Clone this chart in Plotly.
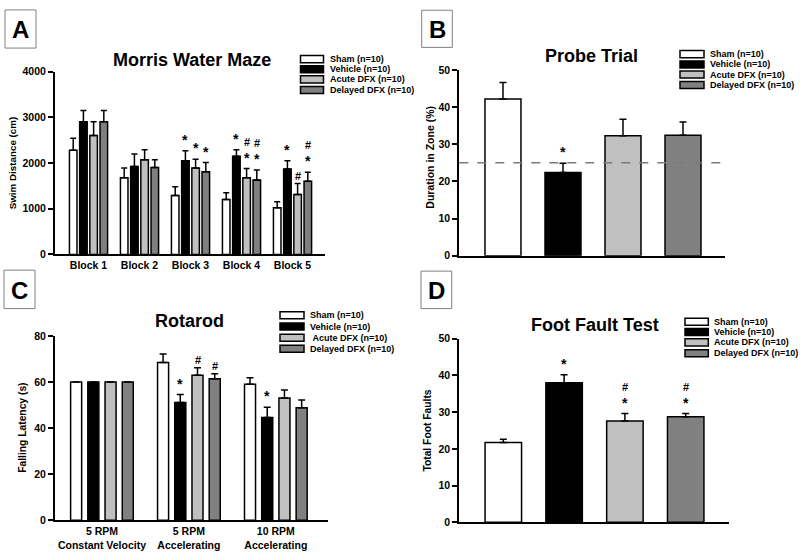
import plotly.graph_objects as go

W, H = 800, 554
FONT = "Arial, Liberation Sans, sans-serif"

# ---------------- data ----------------
series_names = ["Sham (n=10)", "Vehicle (n=10)", "Acute DFX (n=10)", "Delayed DFX (n=10)"]
series_names_c = ["Sham (n=10)", "Vehicle (n=10)", "\u00a0Acute DFX (n=10)", "Delayed DFX (n=10)"]
series_colors = ["#ffffff", "#000000", "#c0c0c0", "#808080"]

# Panel A - Morris Water Maze
blocks = ["Block 1", "Block 2", "Block 3", "Block 4", "Block 5"]
mwm_sham = [2280, 1680, 1290, 1200, 1020]
mwm_vehicle = [2900, 1925, 2050, 2150, 1870]
mwm_acute = [2600, 2070, 1890, 1680, 1310]
mwm_delayed = [2900, 1900, 1810, 1630, 1600]
mwm_sham_err = [260, 210, 190, 150, 135]
mwm_vehicle_err = [250, 275, 220, 140, 180]
mwm_acute_err = [300, 220, 190, 200, 240]
mwm_delayed_err = [250, 170, 200, 220, 200]
mwm_stars = [[0, 0, 0, 0, 0], [0, 0, 1, 1, 1], [0, 0, 1, 1, 0], [0, 0, 1, 1, 1]]
mwm_hashes = [[0, 0, 0, 0, 0], [0, 0, 0, 0, 0], [0, 0, 0, 1, 1], [0, 0, 0, 1, 1]]

# Panel B - Probe Trial
probe_groups = ["Sham", "Vehicle", "Acute DFX", "Delayed DFX"]
probe_vals = [42.2, 22.4, 32.3, 32.4]
probe_err = [4.4, 2.5, 4.4, 3.6]
probe_stars = [0, 1, 0, 0]
probe_chance = 25

# Panel C - Rotarod
rot_conditions = ["5 RPM<br>Constant Velocity", "5 RPM<br>Accelerating", "10 RPM<br>Accelerating"]
rot_sham = [60, 68.5, 59.0]
rot_vehicle = [60, 51.1, 44.6]
rot_acute = [60, 63.0, 53.1]
rot_delayed = [60, 61.4, 48.8]
rot_sham_err = [0, 3.7, 2.9]
rot_vehicle_err = [0, 3.5, 4.5]
rot_acute_err = [0, 3.2, 3.5]
rot_delayed_err = [0, 2.2, 3.4]
rot_stars = [[0, 0, 0], [0, 1, 1], [0, 0, 0], [0, 0, 0]]
rot_hashes = [[0, 0, 0], [0, 0, 0], [0, 1, 0], [0, 1, 0]]

# Panel D - Foot Fault Test
ff_vals = [21.7, 38.0, 27.6, 28.7]
ff_err = [0.9, 2.2, 2.0, 0.9]
ff_stars = [0, 1, 1, 1]
ff_hashes = [0, 0, 1, 1]


def px(x):
    return x / W


def py(y):
    return 1 - y / H


fig = go.Figure()
annotations = []
shapes = []


def sig_marks(xref, yref, x, top, star, hsh):
    if star:
        annotations.append(dict(x=x, y=top, xref=xref, yref=yref, text="*", showarrow=False,
                                yanchor="middle", yshift=11,
                                font=dict(family=FONT, size=14, color="black", weight="bold")))
    if hsh:
        annotations.append(dict(x=x, y=top, xref=xref, yref=yref, text="#", showarrow=False,
                                yanchor="middle", yshift=27 if star else 8,
                                font=dict(family=FONT, size=11, color="black", weight="bold")))


def err_style(arr, cap):
    return dict(type="data", array=arr, arrayminus=[0] * len(arr), symmetric=False,
                color="black", thickness=1.5, width=cap, visible=True)


def grouped(xa, ya, vals_list, errs_list, stars, hashes, slot, width, cap):
    for k in range(4):
        off = (k - 1.5) * slot
        xs = list(range(len(vals_list[k])))
        fig.add_trace(go.Bar(
            x=xs, y=vals_list[k], width=width, offset=off - width / 2,
            marker=dict(color=series_colors[k], line=dict(color="black", width=1.5)),
            error_y=err_style(errs_list[k], cap), name=series_names[k],
            xaxis=xa, yaxis=ya, showlegend=False))
        for i, v in enumerate(vals_list[k]):
            sig_marks(xa, ya, i + off, v + errs_list[k][i], stars[k][i], hashes[k][i])


def single(xa, ya, vals, errs, stars, hashes, width, cap):
    for k in range(4):
        fig.add_trace(go.Bar(
            x=[k], y=[vals[k]], width=width, offset=-width / 2,
            marker=dict(color=series_colors[k], line=dict(color="black", width=1.5)),
            error_y=err_style([errs[k]], cap), name=series_names[k],
            xaxis=xa, yaxis=ya, showlegend=False))
        sig_marks(xa, ya, k, vals[k] + errs[k], stars[k], hashes[k] if hashes else 0)


# Panel A
grouped("x", "y", [mwm_sham, mwm_vehicle, mwm_acute, mwm_delayed],
        [mwm_sham_err, mwm_vehicle_err, mwm_acute_err, mwm_delayed_err],
        mwm_stars, mwm_hashes, slot=0.2, width=0.148, cap=3)
# Panel B
single("x2", "y2", probe_vals, probe_err, probe_stars, None, width=0.6, cap=3.5)
shapes.append(dict(type="line", xref="x2 domain", yref="y2", x0=0, x1=1,
                   y0=probe_chance, y1=probe_chance, layer="above",
                   line=dict(color="#7a7a7a", width=1.5, dash="dash")))
# Panel C
grouped("x3", "y3", [rot_sham, rot_vehicle, rot_acute, rot_delayed],
        [rot_sham_err, rot_vehicle_err, rot_acute_err, rot_delayed_err],
        rot_stars, rot_hashes, slot=0.198, width=0.127, cap=3.5)
# Panel D
single("x4", "y4", ff_vals, ff_err, ff_stars, ff_hashes, width=0.6, cap=3.5)

tickfont = dict(family=FONT, size=10.5, color="black", weight="bold")
yax_common = dict(showline=True, linewidth=2, linecolor="black", ticks="outside",
                  ticklen=5, tickwidth=1.5, tickcolor="black", showgrid=False,
                  zeroline=False, tickfont=tickfont, fixedrange=True)
xax_common = dict(showline=True, linewidth=2, linecolor="black", ticks="",
                  showgrid=False, zeroline=False, tickfont=tickfont, fixedrange=True)

fig.update_layout(
    width=W, height=H, margin=dict(l=0, r=0, t=0, b=0),
    paper_bgcolor="white", plot_bgcolor="white", barmode="overlay", showlegend=False,
    xaxis=dict(domain=[px(55), px(325)], range=[-0.657, 4.637], anchor="y",
               tickvals=list(range(len(blocks))), ticktext=blocks, **xax_common),
    yaxis=dict(domain=[py(254), py(67)], range=[0, 4000], dtick=1000, anchor="x", **yax_common),
    xaxis2=dict(domain=[px(459.3), px(725)], range=[-0.728, 3.7], anchor="y2",
                showticklabels=False, **xax_common),
    yaxis2=dict(domain=[py(255.3), py(65.3)], range=[0, 50], dtick=10, anchor="x2", **yax_common),
    xaxis3=dict(domain=[px(55), px(328)], range=[-0.54, 2.6], anchor="y3",
                tickvals=list(range(len(rot_conditions))), ticktext=rot_conditions, **xax_common),
    yaxis3=dict(domain=[py(525.7), py(337.3)], range=[0, 80], dtick=20, anchor="x3", **yax_common),
    xaxis4=dict(domain=[px(459.3), px(729.3)], range=[-0.724, 3.717], anchor="y4",
                showticklabels=False, **xax_common),
    yaxis4=dict(domain=[py(527.7), py(340)], range=[0, 50], dtick=10, anchor="x4", **yax_common),
)

# titles
titles = [("Morris Water Maze", 192, 55), ("Probe Trial", 591.7, 51),
          ("Rotarod", 189.7, 322), ("Foot Fault Test", 595, 326.3)]
for t, x, y in titles:
    annotations.append(dict(text=t, x=px(x), y=py(y), xref="paper", yref="paper",
                            showarrow=False, xanchor="center", yanchor="middle",
                            font=dict(family=FONT, size=18, color="black", weight="bold")))

# y-axis titles
ytitles = [("Swim Distance (cm)", 12.3, 160.5, 9.8), ("Duration in Zone (%)", 430, 155, 10.5),
           ("Falling Latency (s)", 21.7, 431.5, 10.3), ("Total Foot Faults", 428, 434, 10.3)]
for t, x, y, s in ytitles:
    annotations.append(dict(text=t, x=px(x), y=py(y), xref="paper", yref="paper",
                            showarrow=False, textangle=-90, xanchor="center", yanchor="middle",
                            font=dict(family=FONT, size=s, color="black", weight="bold")))

# panel letters
letters = [("A", 5, 4, 36, 43), ("B", 421.7, 4.3, 452.3, 42.3),
           ("C", 4, 270, 35, 309.3), ("D", 421, 271, 451.7, 309.3)]
for L, x0, y0, x1, y1 in letters:
    shapes.append(dict(type="rect", xref="paper", yref="paper", x0=px(x0), x1=px(x1),
                       y0=py(y1), y1=py(y0), line=dict(color="#808080", width=1),
                       fillcolor="white", layer="below"))
    annotations.append(dict(text=L, x=px((x0 + x1) / 2), y=py((y0 + y1) / 2 + 1),
                            xref="paper", yref="paper", showarrow=False,
                            xanchor="center", yanchor="middle",
                            font=dict(family=FONT, size=24, color="black", weight="bold")))

# legends (drawn manually to reproduce wide swatches)
legends = [(300.5, 323.5, [54.3, 64.6, 75.0, 85.8], 328.3, series_names),
           (680, 704, [49.2, 59.7, 70.1, 80.7], 708.3, series_names),
           (280, 304, [316, 327.7, 339.1, 350.4], 308.3, series_names_c),
           (685, 708.3, [322.7, 333.2, 343.8, 355.0], 712.3, series_names)]
for bx0, bx1, rows, tx, names in legends:
    for k, yc in enumerate(rows):
        shapes.append(dict(type="rect", xref="paper", yref="paper", x0=px(bx0), x1=px(bx1),
                           y0=py(yc + 3.6), y1=py(yc - 3.6),
                           line=dict(color="black", width=1.5), fillcolor=series_colors[k]))
        annotations.append(dict(text=names[k], x=px(tx), y=py(yc), xref="paper", yref="paper",
                                showarrow=False, xanchor="left", yanchor="middle",
                                font=dict(family=FONT, size=9, color="black", weight="bold")))

fig.update_layout(annotations=annotations, shapes=shapes)
fig.write_html("out.html", config={"displayModeBar": False},
               post_script="document.body.style.margin='0';document.body.style.overflow='hidden';")
